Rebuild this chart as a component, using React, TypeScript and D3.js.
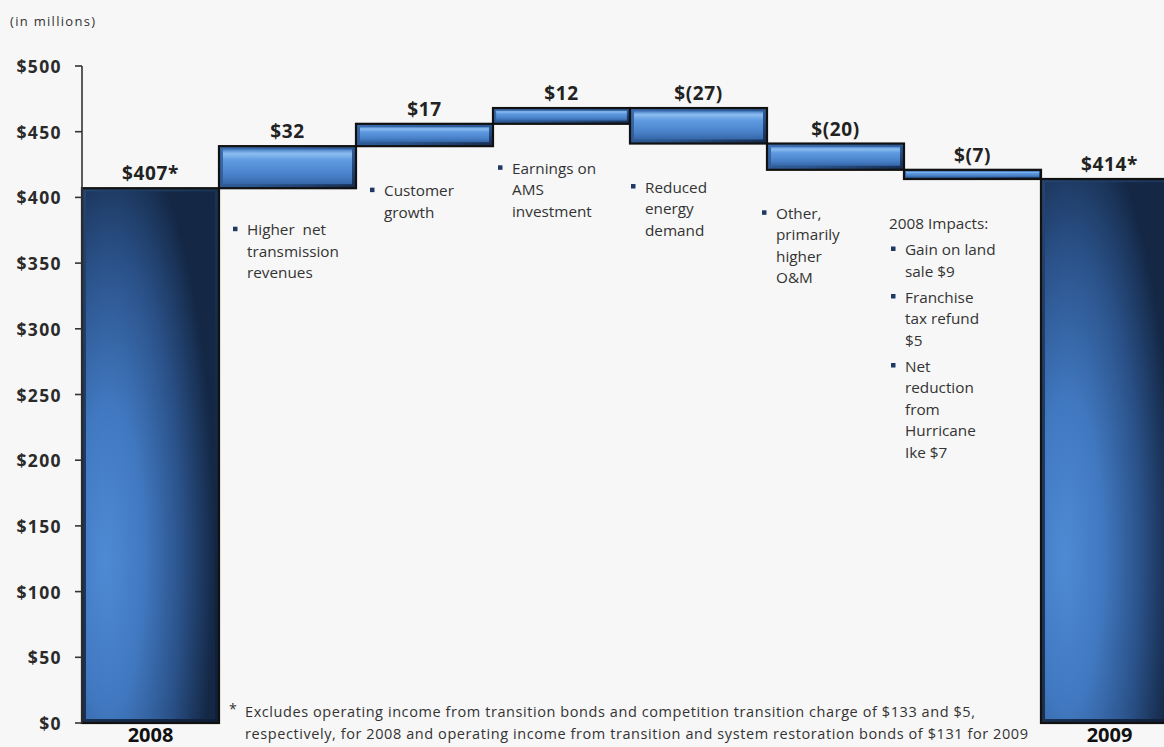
import React from "react";
import * as d3 from "d3";

const categories = ["2008", "Transmission", "Customer growth", "AMS investment", "Energy demand", "Other", "2008 impacts", "2009"];
const startTotal = 407;
const deltas = [32, 17, 12, -27, -20, -7];
const endTotal = 414;
const valueLabels = ["$407*", "$32", "$17", "$12", "$(27)", "$(20)", "$(7)", "$414*"];
const axisLabels = ["2008", "", "", "", "", "", "", "2009"];
const yTicks = [0, 50, 100, 150, 200, 250, 300, 350, 400, 450, 500];

const annotations = [
  { band: 1, dx: 28, dy: 41, header: "", items: [["Higher  net", "transmission", "revenues"]] },
  { band: 2, dx: 28, dy: 44, header: "", items: [["Customer", "growth"]] },
  { band: 3, dx: 19, dy: 44, header: "", items: [["Earnings on", "AMS", "investment"]] },
  { band: 4, dx: 15, dy: 43, header: "", items: [["Reduced", "energy", "demand"]] },
  { band: 5, dx: 9, dy: 43, header: "", items: [["Other,", "primarily", "higher", "O&M"]] },
  {
    band: 6, dx: 1, dy: 44, header: "2008 Impacts:",
    items: [["Gain on land", "sale $9"], ["Franchise", "tax refund", "$5"], ["Net", "reduction", "from", "Hurricane", "Ike $7"]],
  },
];

const footnoteMark = "*";
const footnoteLines = [
  "Excludes operating income from transition bonds and competition transition charge of $133 and $5,",
  "respectively, for 2008 and operating income from transition and system restoration bonds of $131 for 2009",
];

const W = 1164;
const H = 747;
const FONT = "'Open Sans', 'Liberation Sans', sans-serif";

export default function App() {
  const x = d3.scaleBand<string>().domain(categories).range([82, 82 + 137 * 8]).padding(0);
  const y = d3.scaleLinear().domain([0, 500]).range([723, 66]);

  type Bar = { cat: string; lo: number; hi: number; total: boolean; label: string };
  const bars: Bar[] = [];
  bars.push({ cat: categories[0], lo: 0, hi: startTotal, total: true, label: valueLabels[0] });
  let run = startTotal;
  deltas.forEach((d, i) => {
    const next = run + d;
    bars.push({ cat: categories[i + 1], lo: Math.min(run, next), hi: Math.max(run, next), total: false, label: valueLabels[i + 1] });
    run = next;
  });
  bars.push({ cat: categories[7], lo: 0, hi: endTotal, total: true, label: valueLabels[7] });

  const lineH = 21.5;
  const itemGap = 4.5;
  const annFont = 15.3;

  return (
    <svg width={W} height={H} style={{ position: "absolute", left: 0, top: 0, display: "block" }} fontFamily={FONT}>
      <defs>
        <linearGradient id="floatFill" x1="0" y1="0" x2="0" y2="1">
          <stop offset="0" stopColor="#4a82c8" />
          <stop offset="0.12" stopColor="#8cbdf0" />
          <stop offset="0.32" stopColor="#5f9be0" />
          <stop offset="0.75" stopColor="#4880c8" />
          <stop offset="1" stopColor="#3566a6" />
        </linearGradient>
        <linearGradient id="floatEdge" x1="0" y1="0" x2="1" y2="1">
          <stop offset="0" stopColor="#3d6faf" />
          <stop offset="0.6" stopColor="#2b568f" />
          <stop offset="1" stopColor="#15294a" />
        </linearGradient>
        <radialGradient id="totalFill" cx="0.2" cy="0.68" r="0.8" fx="0.15" fy="0.7">
          <stop offset="0" stopColor="#4e8ad4" />
          <stop offset="0.35" stopColor="#4179c1" />
          <stop offset="0.7" stopColor="#2a5188" />
          <stop offset="1" stopColor="#142846" />
        </radialGradient>
        <linearGradient id="totalEdge" x1="0" y1="0" x2="1" y2="1">
          <stop offset="0" stopColor="#25446f" />
          <stop offset="1" stopColor="#0f1e36" />
        </linearGradient>
      </defs>
      <rect x={0} y={0} width={W} height={H} fill="#f7f7f7" />

      <text x={10} y={21} fontSize={13} fill="#333" dominantBaseline="central" textLength={85} lengthAdjust="spacing">(in millions)</text>

      {bars.map((b, i) => {
        const bx = x(b.cat)!;
        const bw = x.bandwidth();
        const top = y(b.hi);
        const bot = y(b.lo);
        const h = bot - top;
        const ins = Math.min(4, h * 0.2);
        return (
          <g key={i}>
            <rect x={bx} y={top} width={bw} height={h} fill={b.total ? "url(#totalEdge)" : "url(#floatEdge)"} />
            <rect
              x={bx + ins}
              y={top + ins * 0.8}
              width={bw - ins * 2}
              height={h - ins * 1.8}
              fill={b.total ? "url(#totalFill)" : "url(#floatFill)"}
            />
            <rect x={bx} y={top} width={bw} height={h} fill="none" stroke="#111" strokeWidth={2.2} />
            <text
              x={bx + bw / 2}
              y={top - 8}
              textAnchor="middle"
              fontSize={19}
              fontWeight={700}
              fill="#222"
              letterSpacing={0.6}
            >
              {b.label}
            </text>
          </g>
        );
      })}

      <line x1={82} x2={82} y1={y(500)} y2={y(0)} stroke="#333" strokeWidth={1.6} />
      {yTicks.map((t) => (
        <g key={t}>
          <line x1={75} x2={82} y1={y(t)} y2={y(t)} stroke="#333" strokeWidth={1.6} />
          <text
            x={62}
            y={y(t)}
            textAnchor="end"
            dominantBaseline="central"
            fontSize={17.5}
            fontWeight={700}
            fill="#2a2a2a"
            letterSpacing={1.4}
          >
            {"$" + t}
          </text>
        </g>
      ))}

      {categories.map((c, i) =>
        axisLabels[i] ? (
          <text key={c} x={x(c)! + x.bandwidth() / 2} y={742} textAnchor="middle" fontSize={20} fontWeight={700} fill="#111">
            {axisLabels[i]}
          </text>
        ) : null
      )}

      {annotations.map((a, ai) => {
        const b = bars[a.band];
        const bx = x(b.cat)!;
        let cy = y(b.lo) + a.dy;
        const out: React.ReactNode[] = [];
        const tx = bx + a.dx;
        if (a.header) {
          out.push(
            <text key="h" x={bx - 15} y={cy} fontSize={annFont} fill="#333" dominantBaseline="central">
              {a.header}
            </text>
          );
          cy += lineH + itemGap;
        }
        a.items.forEach((lines, ii) => {
          out.push(<rect key={"b" + ii} x={tx - 14} y={cy - 2.5} width={4.5} height={4.5} fill="#1f3864" />);
          lines.forEach((l, li) => {
            out.push(
              <text key={ii + "-" + li} x={tx} y={cy + li * lineH} fontSize={annFont} fill="#333" dominantBaseline="central" style={{ whiteSpace: "pre" }}>
                {l}
              </text>
            );
          });
          cy += lines.length * lineH + itemGap;
        });
        return <g key={ai}>{out}</g>;
      })}

      <text x={229} y={708} fontSize={14} fill="#333" dominantBaseline="central">{footnoteMark}</text>
      <text x={245} y={711} fontSize={14.5} fill="#333" dominantBaseline="central" textLength={730} lengthAdjust="spacing">
        {footnoteLines[0]}
      </text>
      <text x={245} y={733} fontSize={14.5} fill="#333" dominantBaseline="central" textLength={783} lengthAdjust="spacing">
        {footnoteLines[1]}
      </text>
    </svg>
  );
}
